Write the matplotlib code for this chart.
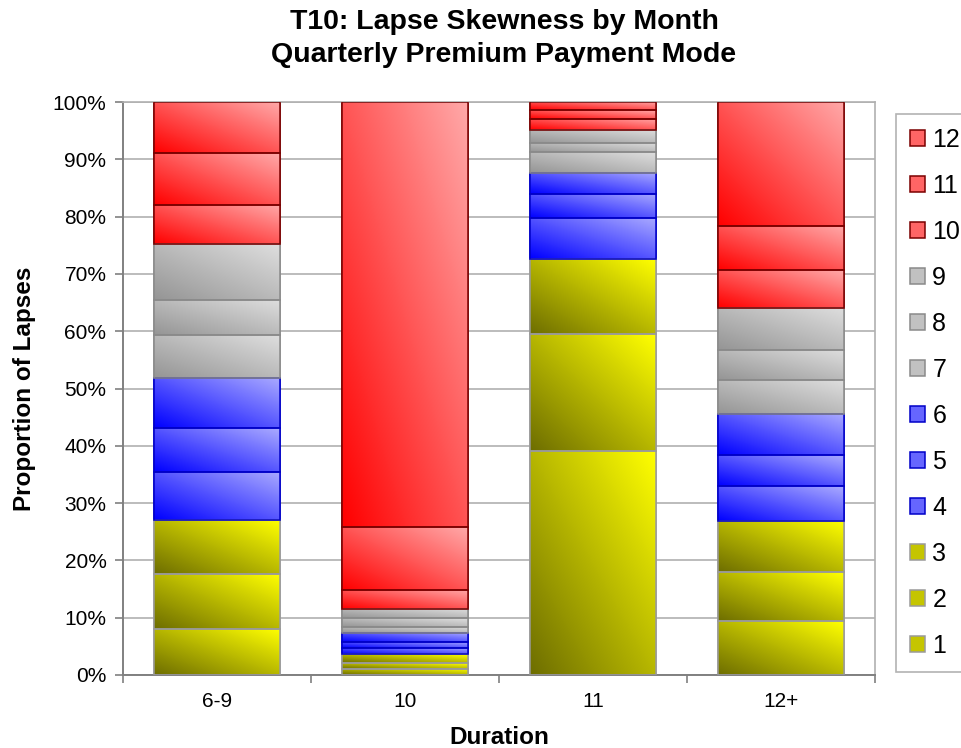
import numpy as np
import matplotlib.pyplot as plt
from matplotlib.colors import LinearSegmentedColormap
from matplotlib.ticker import PercentFormatter

plt.rcParams['font.family'] = ['Liberation Sans', 'DejaVu Sans']

durations = ['6-9', '10', '11', '12+']
months = ['1', '2', '3', '4', '5', '6', '7', '8', '9', '10', '11', '12']

# share of lapses (%) by month, one list per duration group
share_6_9 = [8.1, 9.6, 9.4, 8.4, 7.6, 8.8, 7.4, 6.2, 9.7, 6.9, 9.0, 8.9]
share_10 = [1.1, 1.0, 1.5, 1.05, 1.15, 1.6, 1.05, 1.45, 1.6, 3.4, 10.9, 74.2]
share_11 = [39.1, 20.4, 13.1, 7.2, 4.2, 3.7, 3.5, 1.6, 2.3, 2.0, 1.5, 1.4]
share_12p = [9.4, 8.5, 9.0, 6.1, 5.4, 7.2, 5.8, 5.3, 7.4, 6.5, 7.7, 21.7]

shares = np.array([share_6_9, share_10, share_11, share_12p]).T / 100.0

# (dark, light, edge) per quarter of the year
yellow = ('#6e6e00', '#ffff00', '#9a9a9a')
blue = ('#0000ff', '#aaaaff', '#0000c8')
gray = ('#959595', '#dedede', '#8a8a8a')
red = ('#ff0000', '#ffa8a8', '#7a0000')
styles = [yellow] * 3 + [blue] * 3 + [gray] * 3 + [red] * 3

fig = plt.figure(figsize=(9.62, 7.48), dpi=100)
ax = fig.add_axes([0.128, 0.0976, 0.7817, 0.766])

x = np.arange(len(durations))
w = 0.67
g = np.linspace(0, 1, 64)
gx, gy = np.meshgrid(g, g)
grad = (gx + gy) / 2

bottom = np.zeros(len(durations))
handles = []
for i, m in enumerate(months):
    dark, light, edge = styles[i]
    cmap = LinearSegmentedColormap.from_list('', [dark, light])
    bars = ax.bar(x, shares[i], w, bottom=bottom, color=cmap(0.6), edgecolor=edge,
                  linewidth=1.1, zorder=2, label=m)
    handles.append(bars)
    for p in bars:
        x0, y0 = p.get_x(), p.get_y()
        im = ax.imshow(grad, cmap=cmap, origin='lower', aspect='auto',
                       extent=(x0, x0 + p.get_width(), y0, y0 + p.get_height()),
                       interpolation='bilinear', zorder=2.5)
        im.set_clip_path(p)
    ax.bar(x, shares[i], w, bottom=bottom, fill=False, edgecolor=edge,
           linewidth=1.1, zorder=3)
    bottom += shares[i]

ax.set_xlim(-0.5, 3.5)
ax.set_ylim(0, 1)
ax.set_yticks(np.arange(0, 1.01, 0.1))
ax.yaxis.set_major_formatter(PercentFormatter(1.0, decimals=0))
ax.set_xticks(x)
ax.set_xticklabels(durations)
ax.set_xticks(np.arange(-0.5, 4, 1), minor=True)
ax.tick_params(axis='x', which='major', length=0, pad=12, labelsize=15)
ax.tick_params(axis='x', which='minor', length=6, color='#808080', width=1.2)
ax.tick_params(axis='y', length=6, color='#808080', width=1.2, pad=6, labelsize=15)
ax.grid(axis='y', color='#b0b0b0', linewidth=1.2, zorder=0)
ax.set_axisbelow(True)
for s in ['top', 'right']:
    ax.spines[s].set_color('#b0b0b0')
    ax.spines[s].set_linewidth(1.2)
for s in ['left', 'bottom']:
    ax.spines[s].set_color('#808080')
    ax.spines[s].set_linewidth(1.4)

ax.set_ylabel('Proportion of Lapses', fontsize=17.5, fontweight='bold', labelpad=12)
ax.set_xlabel('Duration', fontsize=17.5, fontweight='bold', labelpad=11)
fig.text(504 / 962, 1 - 9 / 748, 'T10: Lapse Skewness by Month\nQuarterly Premium Payment Mode',
         ha='center', va='top', fontsize=20.5, fontweight='bold', linespacing=1.35)

leg = fig.legend(handles[::-1], months[::-1], loc='upper left',
                 bbox_to_anchor=(896 / 962, 1 - 114 / 748), borderaxespad=0,
                 fontsize=18, frameon=True, fancybox=False, edgecolor='#a0a0a0',
                 handlelength=0.6, handleheight=0.6, handletextpad=0.3,
                 labelspacing=0.88, borderpad=0.55)
leg.get_frame().set_linewidth(1.2)

fig.savefig('out.png', dpi=100)
